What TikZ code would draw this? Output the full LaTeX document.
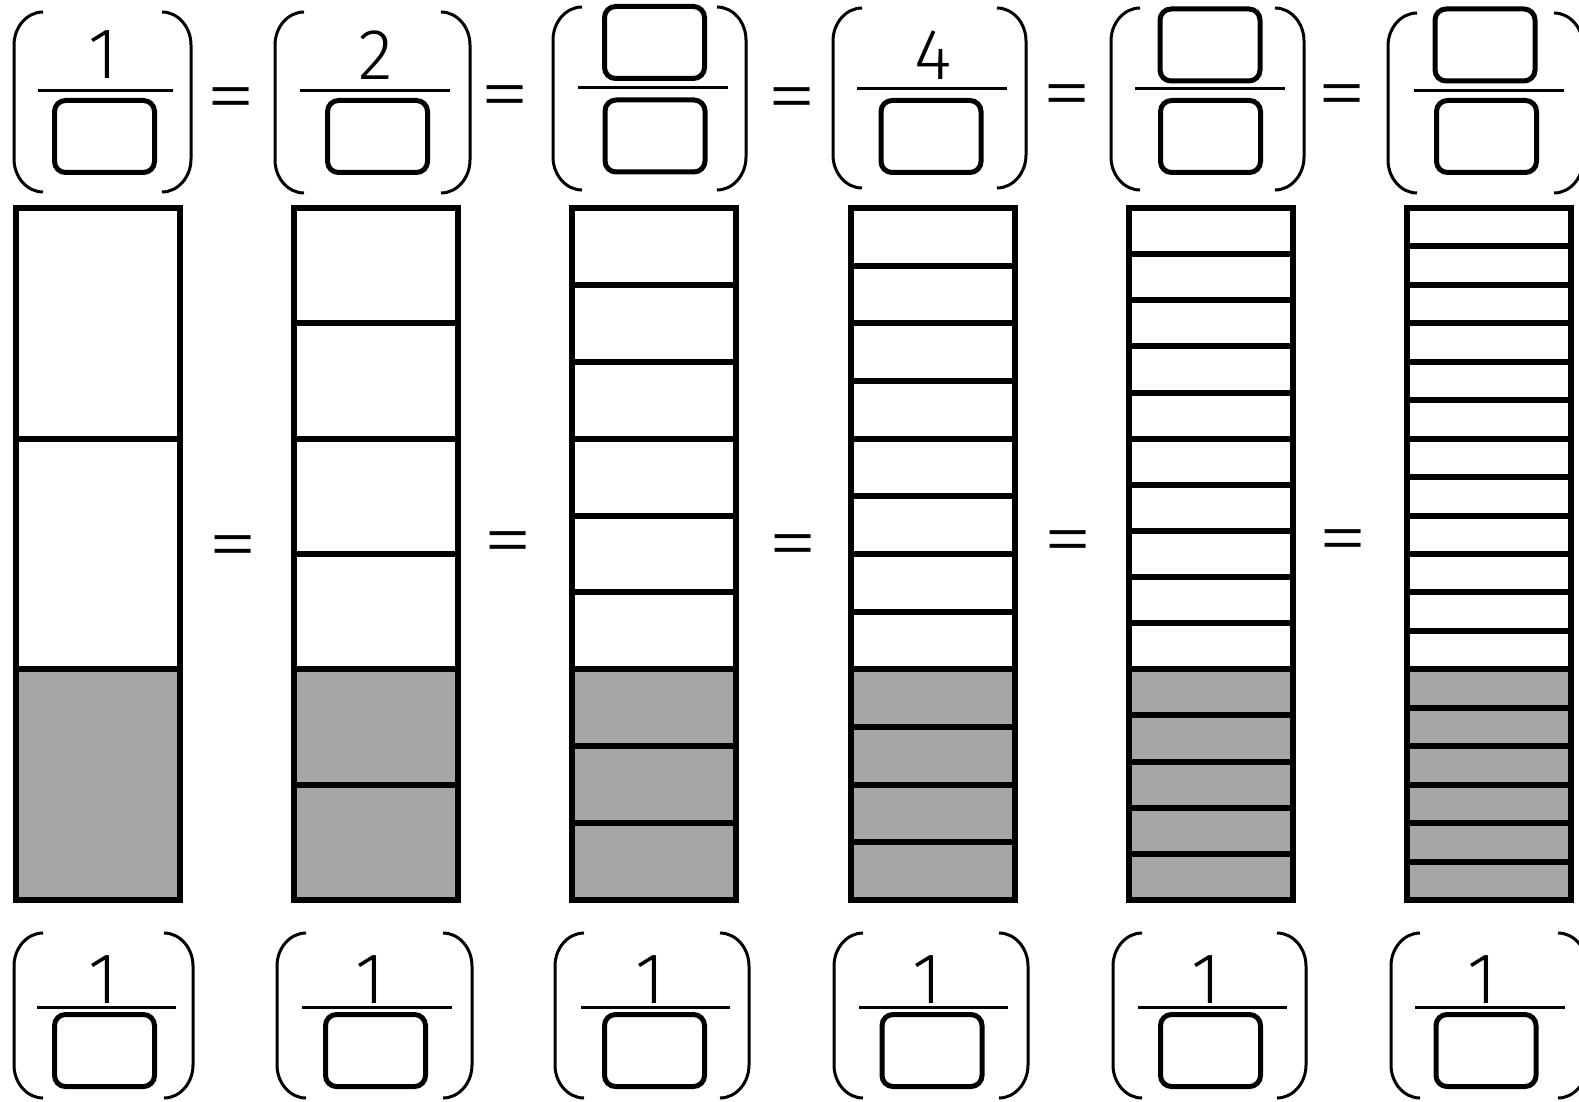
\documentclass[tikz,border=0pt]{standalone}
\usepackage{fontspec}
\usepackage{graphicx}
\newfontfamily\numfont{Fira Sans Light}
\newfontfamily\eqfont{Liberation Sans}
\definecolor{barfill}{RGB}{166,166,166}
\tikzset{
  frame/.style={line width=6pt, draw=black},
  divider/.style={line width=6pt},
  bracket/.style={line width=3pt},
  fracline/.style={line width=3pt},
  ansbox/.style={draw, line width=5pt, rounded corners=11pt, minimum width=100pt, minimum height=72pt, inner sep=0pt},
  digit/.style={inner sep=0pt, font=\numfont\fontsize{72}{72}\selectfont},
  eqsign/.style={inner sep=0pt},
}
\newcommand{\eqtext}{\scalebox{1}[0.74]{\eqfont\fontsize{74}{74}\selectfont =}}
\newcommand{\brpair}[4]{%
  \draw[bracket] (#1+29,#3) .. controls (#1+13,#3) and (#1,#3+15) .. (#1,#3+33) -- (#1,#4-33) .. controls (#1,#4-15) and (#1+13,#4) .. (#1+29,#4);
  \draw[bracket] (#2-29,#3) .. controls (#2-13,#3) and (#2,#3+15) .. (#2,#3+33) -- (#2,#4-33) .. controls (#2,#4-15) and (#2-13,#4) .. (#2-29,#4);
}
\begin{document}
\begin{tikzpicture}[x=1pt,y=-1pt]
\fill[white] (0,0) rectangle (1579,1102);
\useasboundingbox (0,0) rectangle (1579,1102);

% ---------- bars ----------
\foreach \i/\n in {0/3,1/6,2/9,3/12,4/15,5/18}{
  \pgfmathsetmacro\xa{16+278.2*\i}
  \pgfmathsetmacro\xb{\xa+164}
  \fill[barfill] (\xa,669.33) rectangle (\xb,900);
  \pgfmathtruncatemacro\m{\n-1}
  \foreach \k in {1,...,\m}{
    \pgfmathsetmacro\yy{208+692*\k/\n}
    \draw[divider] (\xa,\yy) -- (\xb,\yy);
  }
  \draw[frame] (\xa,208) rectangle (\xb,900);
}

% ---------- top row ----------
\brpair{14}{191}{12}{192}
\brpair{275}{470}{12}{193}
\brpair{553}{746}{7}{190}
\brpair{833}{1026}{8}{188}
\brpair{1111}{1304}{8}{190}
\brpair{1388}{1583}{13}{193}

\draw[fracline] (38,91) -- (173,91);
\draw[fracline] (300,91) -- (450,91);
\draw[fracline] (578,88) -- (728,88);
\draw[fracline] (857,89) -- (1007,89);
\draw[fracline] (1135,89) -- (1285,89);
\draw[fracline] (1414,91) -- (1564,91);

\node[digit] (tn1) at (103,55) {1};
\node[digit] (tn2) at (376,55) {2};
\node[ansbox] (tn3) at (654.5,42.5) {};
\node[digit] (tn4) at (933,55) {4};
\node[ansbox] (tn5) at (1210,45) {};
\node[ansbox] (tn6) at (1485,45) {};

\node[ansbox] (td1) at (104.5,136.5) {};
\node[ansbox] (td2) at (377.5,136.5) {};
\node[ansbox] (td3) at (655,136) {};
\node[ansbox] (td4) at (931,136.5) {};
\node[ansbox] (td5) at (1210.5,136.5) {};
\node[ansbox] (td6) at (1486.5,136.5) {};

\node[eqsign] (te1) at (231.5,101) {\eqtext};
\node[eqsign] (te2) at (505.5,99.5) {\eqtext};
\node[eqsign] (te3) at (792.5,101) {\eqtext};
\node[eqsign] (te4) at (1067.5,98.5) {\eqtext};
\node[eqsign] (te5) at (1342.5,98.5) {\eqtext};

% ---------- middle equals ----------
\node[eqsign] (me1) at (233.5,549) {\eqtext};
\node[eqsign] (me2) at (508,545) {\eqtext};
\node[eqsign] (me3) at (793,548) {\eqtext};
\node[eqsign] (me4) at (1068,544) {\eqtext};
\node[eqsign] (me5) at (1343,543) {\eqtext};

% ---------- bottom row ----------
\brpair{14}{193}{933}{1098}
\brpair{277}{472}{933}{1098}
\brpair{555}{749}{933}{1098}
\brpair{834}{1028}{933}{1098}
\brpair{1113}{1306}{933}{1098}
\brpair{1391}{1587}{933}{1098}

\draw[fracline] (37,1007) -- (176,1007);
\draw[fracline] (302,1007) -- (452,1007);
\draw[fracline] (581,1007) -- (730,1007);
\draw[fracline] (859,1007) -- (1008,1007);
\draw[fracline] (1138,1007) -- (1287,1007);
\draw[fracline] (1415,1007) -- (1565,1007);

\node[digit] (bn1) at (103,980) {1};
\node[digit] (bn2) at (370,980) {1};
\node[digit] (bn3) at (650,980) {1};
\node[digit] (bn4) at (927,980) {1};
\node[digit] (bn5) at (1206,980) {1};
\node[digit] (bn6) at (1482,980) {1};

\node[ansbox] (bd1) at (104.5,1050.5) {};
\node[ansbox] (bd2) at (375.5,1050.5) {};
\node[ansbox] (bd3) at (654.5,1050.5) {};
\node[ansbox] (bd4) at (932,1050.5) {};
\node[ansbox] (bd5) at (1210.5,1050.5) {};
\node[ansbox] (bd6) at (1486,1050.5) {};
\end{tikzpicture}
\end{document}
